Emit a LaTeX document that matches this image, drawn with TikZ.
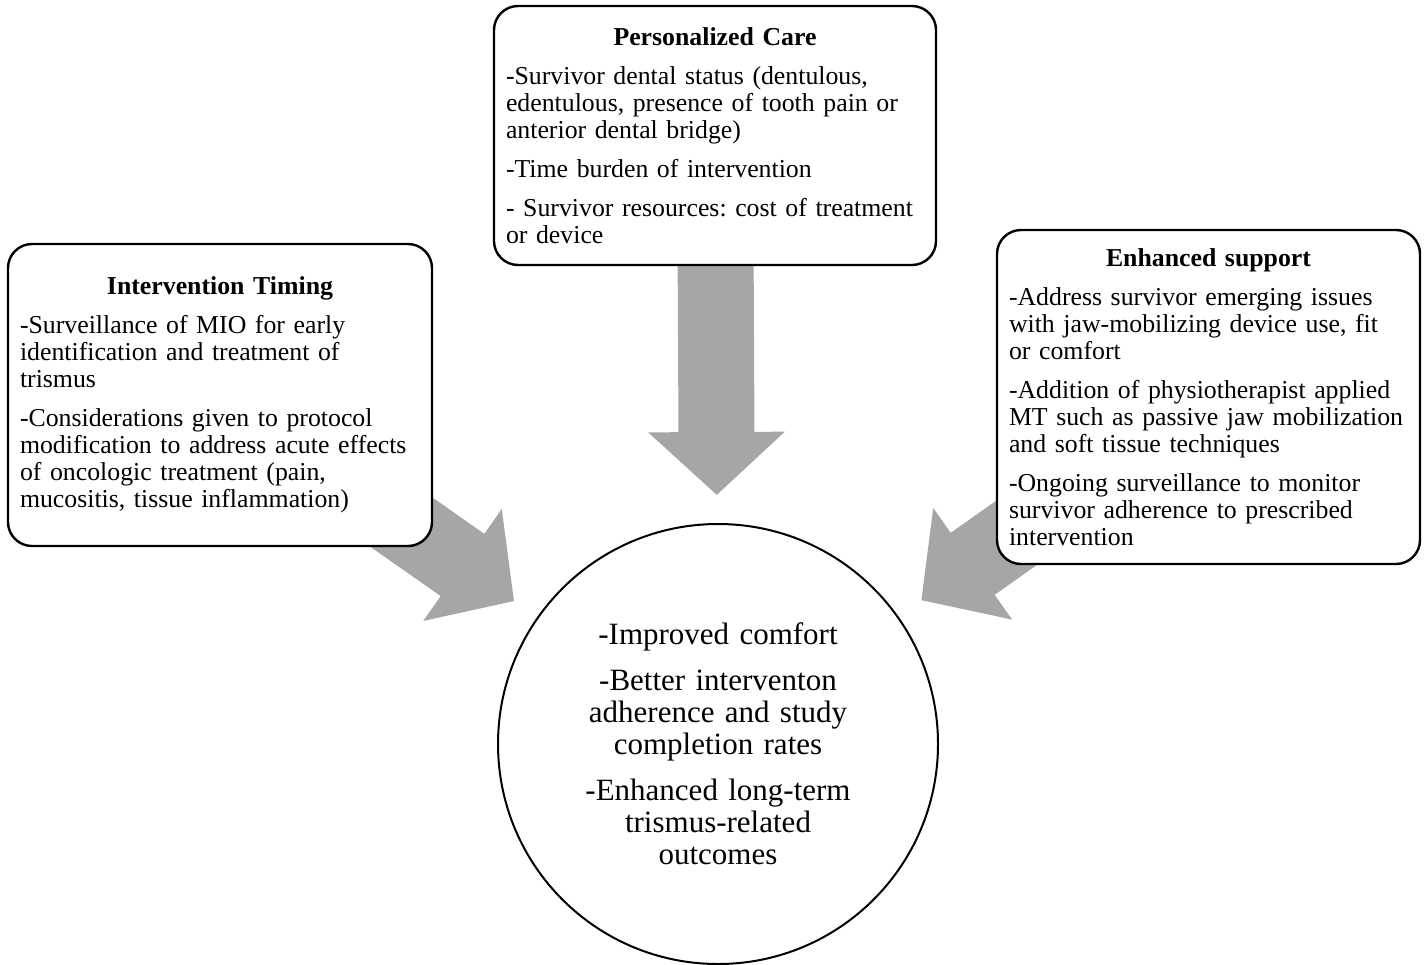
\documentclass[tikz,border=0pt]{standalone}
\usepackage{fontspec}
\setmainfont{Liberation Serif}
\usepackage{xcolor}
\usepackage{tikz}
\usetikzlibrary{arrows.meta, backgrounds}
\setlength{\parindent}{0pt}
\frenchspacing
\definecolor{arrowgray}{RGB}{166,166,166}

\begin{document}
\begin{tikzpicture}[x=0.5pt, y=-0.5pt,
  factor/.style={draw, line width=1.2pt, rounded corners=12pt, fill=white,
    inner xsep=4pt, inner ysep=0pt, font=\fontsize{12.9}{13.5}\selectfont},
  bigarrow/.style={draw=arrowgray, line width=38pt,
    -{Triangle[length=31.5pt, width=66.5pt]}, shorten >=14pt}]
  \useasboundingbox (0,0) rectangle (1427,964);

  % Outcome circle
  \node[draw, circle, line width=1pt, minimum size=220pt, inner sep=0pt,
    text width=170pt, align=center, font=\fontsize{15.5}{16}\selectfont]
    (outcome) at (718,744)
    {-Improved comfort\\[7pt]
     -Better interventon\\ adherence and study\\ completion rates\\[7pt]
     -Enhanced long-term\\ trismus-related\\ outcomes};

  % Factor boxes
  \node[factor, text width=213pt, minimum height=129.5pt] (care) at (715,135.5)
    {{\centering\bfseries Personalized Care\par}\vspace{6pt}
     \raggedright \hspace*{2pt}-Survivor dental status (dentulous,\\ \hspace*{2pt}edentulous, presence of tooth pain or\\ \hspace*{2pt}anterior dental bridge)\par\vspace{6pt}
     \hspace*{2pt}-Time burden of intervention\par\vspace{6pt}
     \hspace*{2pt}- Survivor resources: cost of treatment\\ \hspace*{2pt}or device};

  \node[factor, text width=204pt, minimum height=151pt] (timing) at (220,395)
    {{\centering\bfseries Intervention Timing\par}\vspace{6pt}
     \raggedright \hspace*{2pt}-Surveillance of MIO for early\\ \hspace*{2pt}identification and treatment of\\ \hspace*{2pt}trismus\par\vspace{6pt}
     \hspace*{2pt}-Considerations given to protocol\\ \hspace*{2pt}modification to address acute effects\\ \hspace*{2pt}of oncologic treatment (pain,\\ \hspace*{2pt}mucositis, tissue inflammation)};

  \node[factor, text width=203.5pt, minimum height=167pt] (support) at (1208.5,397)
    {{\centering\bfseries Enhanced support\par}\vspace{6pt}
     \raggedright \hspace*{2pt}-Address survivor emerging issues\\ \hspace*{2pt}with jaw-mobilizing device use, fit\\ \hspace*{2pt}or comfort\par\vspace{6pt}
     \hspace*{2pt}-Addition of physiotherapist applied\\ \hspace*{2pt}MT such as passive jaw mobilization\\ \hspace*{2pt}and soft tissue techniques\par\vspace{6pt}
     \hspace*{2pt}-Ongoing surveillance to monitor\\ \hspace*{2pt}survivor adherence to prescribed\\ \hspace*{2pt}intervention};

  % Gray arrows behind the boxes
  \begin{scope}[on background layer]
    \fill[white] (0,0) rectangle (1427,964);
    \draw[bigarrow] (care.center) -- (outcome);
    \draw[bigarrow] (timing.center) -- (outcome);
    \draw[bigarrow] (support.center) -- (outcome);
  \end{scope}
\end{tikzpicture}
\end{document}
